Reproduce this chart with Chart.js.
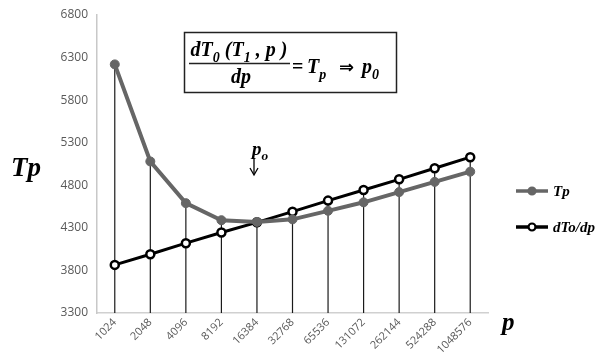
<!DOCTYPE html>
<html>
<head>
<meta charset="utf-8">
<script src="https://cdn.jsdelivr.net/npm/chart.js@4"></script>
<style>
  html, body { margin: 0; padding: 0; background: #fff; }
  #wrap { width: 606px; height: 360px; }
</style>
</head>
<body>
<div id="wrap"><canvas id="chart" width="606" height="360"></canvas></div>
<script>
// Categories (p)
const pLabels = ["1024", "2048", "4096", "8192", "16384", "32768", "65536", "131072", "262144", "524288", "1048576"];

// Series values
const tpValues = [6220, 5080, 4590, 4390, 4370, 4400, 4500, 4600, 4720, 4840, 4960];
const dtoValues = [3865, 3990, 4120, 4245, 4365, 4490, 4620, 4745, 4870, 5000, 5130];

// Y ticks
const yMin = 3300;
const yMax = 6800;
const yStep = 500;

const serif = "'Liberation Serif', 'DejaVu Serif', serif";
const sans = "'Open Sans', 'Liberation Sans', sans-serif";

//Draw text pieces with sub scripts
function drawRich(ctx, x, y, parts, size) {
    let cx = x;
    parts.forEach(part => {
        const sub = part.sub;
        const fs = sub ? size * 0.7 : size;
        ctx.font = `italic bold ${fs}px ${serif}`;
        ctx.fillText(part.t, cx, sub ? y + size * 0.28 : y);
        cx += ctx.measureText(part.t).width;
    });
    return cx - x;
}

function richWidth(ctx, parts, size) {
    let w = 0;
    parts.forEach(part => {
        const fs = part.sub ? size * 0.7 : size;
        ctx.font = `italic bold ${fs}px ${serif}`;
        w += ctx.measureText(part.t).width;
    });
    return w;
}

//Drop lines from the upper point to the axis
const dropLines = {
    id: "dropLines",
    beforeDatasetsDraw(chart) {
        const ctx = chart.ctx;
        const x = chart.scales.x;
        const y = chart.scales.y;
        ctx.save();
        ctx.strokeStyle = "#1a1a1a";
        ctx.lineWidth = 1.2;
        pLabels.forEach((lab, i) => {
            const top = Math.max(tpValues[i], dtoValues[i]);
            const px = x.getPixelForValue(i);
            ctx.beginPath();
            ctx.moveTo(px, y.getPixelForValue(top));
            ctx.lineTo(px, y.getPixelForValue(yMin));
            ctx.stroke();
        });
        ctx.restore();
    }
};

//Labels, formula box and legend
const extras = {
    id: "extras",
    afterDraw(chart) {
        const ctx = chart.ctx;
        ctx.save();
        ctx.fillStyle = "#000";
        ctx.textBaseline = "alphabetic";

        //Axis names
        ctx.font = `italic bold 27px ${serif}`;
        ctx.fillText("Tp", 11, 176);
        ctx.font = `italic bold 25px ${serif}`;
        ctx.fillText("p", 502, 330);

        //Formula box
        ctx.strokeStyle = "#222";
        ctx.lineWidth = 1.5;
        ctx.strokeRect(184.5, 32.5, 212, 60);

        const fs = 20;
        const num = [{t: "dT"}, {t: "0", sub: true}, {t: " (T"}, {t: "1", sub: true}, {t: " , p )"}];
        const nw = richWidth(ctx, num, fs);
        drawRich(ctx, 239 - nw / 2, 56, num, fs);
        ctx.lineWidth = 1.5;
        ctx.beginPath();
        ctx.moveTo(189, 63.5);
        ctx.lineTo(290, 63.5);
        ctx.stroke();
        const den = [{t: "dp"}];
        const dw = richWidth(ctx, den, fs);
        drawRich(ctx, 241 - dw / 2, 83, den, fs);

        ctx.font = `bold ${fs}px ${serif}`;
        ctx.fillText("=", 292, 73);
        drawRich(ctx, 307, 73, [{t: "T"}, {t: "p", sub: true}], fs);
        ctx.font = `bold 18px 'DejaVu Sans', sans-serif`;
        ctx.fillText("\u21D2", 339, 73);
        drawRich(ctx, 362, 73, [{t: "p"}, {t: "0", sub: true}], fs);

        //p_o arrow
        drawRich(ctx, 252, 155, [{t: "p"}, {t: "o", sub: true}], 19);
        ctx.strokeStyle = "#000";
        ctx.lineWidth = 1.3;
        ctx.beginPath();
        ctx.moveTo(254, 158);
        ctx.lineTo(254, 174);
        ctx.stroke();
        ctx.beginPath();
        ctx.moveTo(250, 168);
        ctx.lineTo(254, 175);
        ctx.lineTo(258, 168);
        ctx.stroke();

        //Legend
        const items = [
            {label: "Tp", color: "#666666", fill: "#666666", y: 191},
            {label: "dTo/dp", color: "#000000", fill: "#ffffff", y: 227}
        ];
        items.forEach(it => {
            ctx.strokeStyle = it.color;
            ctx.lineWidth = 3.5;
            ctx.beginPath();
            ctx.moveTo(516, it.y);
            ctx.lineTo(548, it.y);
            ctx.stroke();
            ctx.beginPath();
            ctx.arc(532, it.y, 3.5, 0, Math.PI * 2);
            ctx.fillStyle = it.fill;
            ctx.fill();
            ctx.lineWidth = 2.2;
            ctx.stroke();
            ctx.fillStyle = "#000";
            ctx.font = `italic bold 15px ${serif}`;
            ctx.fillText(it.label, 553, it.y + 5);
        });

        ctx.restore();
    }
};

new Chart(document.querySelector("#chart"), {

    type: "line",

    data: {

        labels: pLabels,

        datasets: [{

            label: "Tp",
            data: tpValues,
            borderColor: "#666666",
            backgroundColor: "#666666",
            borderWidth: 4,
            pointRadius: 4.5,
            pointBackgroundColor: "#666666",
            pointBorderColor: "#666666",
            pointBorderWidth: 1,
            tension: 0

        }, {

            label: "dTo/dp",
            data: dtoValues,
            borderColor: "#000000",
            backgroundColor: "#ffffff",
            borderWidth: 3,
            pointRadius: 4,
            pointBackgroundColor: "#ffffff",
            pointBorderColor: "#000000",
            pointBorderWidth: 2.5,
            tension: 0

        }]

    },

    options: {

        responsive: false,
        animation: false,
        devicePixelRatio: 1,

        layout: {
            padding: {left: 0, right: 118, top: 15, bottom: 0}
        },

        plugins: {
            legend: {display: false},
            tooltip: {enabled: false}
        },

        scales: {

            x: {
                offset: true,
                grid: {display: false, drawTicks: false},
                border: {color: "#d0d0d0", width: 1.5},
                ticks: {
                    color: "#595959",
                    font: {family: sans, size: 11},
                    minRotation: 45,
                    maxRotation: 45,
                    autoSkip: false,
                    padding: 3
                },
                afterFit(scale) {
                    scale.height = 47;
                }
            },

            y: {
                min: yMin,
                max: yMax,
                grid: {display: false, drawTicks: true, tickLength: 5, tickColor: "#bfbfbf"},
                border: {color: "#c8c8c8", width: 1.5},
                ticks: {
                    stepSize: yStep,
                    color: "#595959",
                    font: {family: sans, size: 12},
                    padding: 4,
                    callback: value => String(value)
                },
                afterFit(scale) {
                    scale.width = 97;
                }
            }

        }

    },

    plugins: [dropLines, extras]

});
</script>
</body>
</html>
